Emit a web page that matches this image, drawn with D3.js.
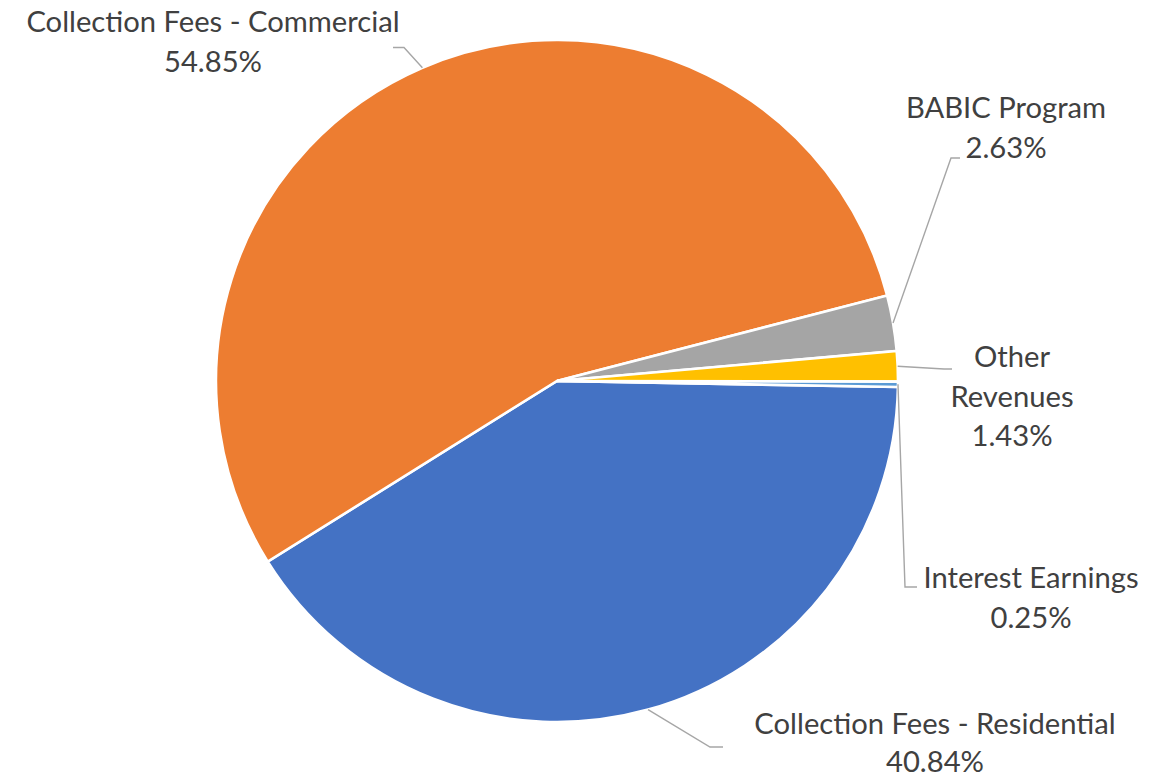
<!DOCTYPE html>
<html>
<head>
<meta charset="utf-8">
<script src="https://cdn.jsdelivr.net/npm/d3@7"></script>
<style>
  html, body { margin: 0; padding: 0; background: #ffffff; }
  svg { display: block; }
</style>
</head>
<body>
<svg id="chart" width="1166" height="779"></svg>
<script>
// Revenue sources, in drawing order (clockwise)
const categories = [
  "Collection Fees - Residential",
  "Collection Fees - Commercial",
  "BABIC Program",
  "Other Revenues",
  "Interest Earnings"
];
const shares = [40.84, 54.85, 2.63, 1.43, 0.25];
const sliceColors = ["#4472C4", "#ED7D31", "#A5A5A5", "#FFC000", "#5B9BD5"];
// label text as it wraps on the chart
const labelLines = [
  ["Collection Fees - Residential"],
  ["Collection Fees - Commercial"],
  ["BABIC Program"],
  ["Other", "Revenues"],
  ["Interest Earnings"]
];

// ---- layout ----
const W = 1166, H = 779;
const cx = 557, cy = 381, R = 341;
const rotation = 91; // degrees clockwise from 12 o'clock where the first slice begins
const lineGap = 39.5;
const fontSize = 29.2;

// label anchor (centre x, first baseline), line spacing, and leader elbow / end points
const labelLayout = [
  { x: 935,  y: 734, gap: 38, elbow: [710, 747], end: [723, 747] },
  { x: 213,  y: 32,  gap: lineGap, elbow: [404, 47.5], end: [393, 47.5] },
  { x: 1006, y: 118, gap: lineGap, elbow: [951, 158], end: [960, 158] },
  { x: 1012, y: 367, gap: lineGap, elbow: [944, 369], end: [952, 369] },
  { x: 1031, y: 588, gap: lineGap, elbow: [905, 587], end: [917, 587] }
];

const svg = d3.select("#chart");
const g = svg.append("g").attr("transform", `translate(${cx},${cy})`);

const data = categories.map((c, i) => ({ name: c, value: shares[i], color: sliceColors[i], i }));

const a0 = rotation * Math.PI / 180;
const pie = d3.pie()
  .sort(null)
  .value(d => d.value)
  .startAngle(a0)
  .endAngle(a0 + 2 * Math.PI);

const arcs = pie(data);
const arc = d3.arc().innerRadius(0).outerRadius(R);

g.selectAll("path.slice")
  .data(arcs)
  .join("path")
  .attr("class", "slice")
  .attr("d", arc)
  .attr("fill", d => d.data.color)
  .attr("stroke", "#ffffff")
  .attr("stroke-width", 2.6)
  .attr("stroke-linejoin", "miter");

// leader lines: from the slice's mid-angle on the rim to the label
const leaders = svg.append("g");
arcs.forEach((d, i) => {
  const mid = (d.startAngle + d.endAngle) / 2;
  const p0 = [cx + R * Math.sin(mid), cy - R * Math.cos(mid)];
  const L = labelLayout[i];
  leaders.append("polyline")
    .attr("points", [p0, L.elbow, L.end].map(p => p.join(",")).join(" "))
    .attr("fill", "none")
    .attr("stroke", "#A6A6A6")
    .attr("stroke-width", 1.4);
});

// labels: name lines then the percentage
const fmt = v => v.toFixed(2) + "%";
const labels = svg.append("g")
  .attr("font-family", "Lato, 'Open Sans', sans-serif")
  .attr("font-size", fontSize)
  .attr("fill", "#404040")
  .attr("text-anchor", "middle");

arcs.forEach((d, i) => {
  const L = labelLayout[i];
  const lines = labelLines[i].concat([fmt(d.data.value)]);
  const t = labels.append("text").attr("x", L.x).attr("y", L.y);
  lines.forEach((s, k) => {
    t.append("tspan").attr("x", L.x).attr("dy", k === 0 ? 0 : L.gap).text(s);
  });
});
</script>
</body>
</html>
